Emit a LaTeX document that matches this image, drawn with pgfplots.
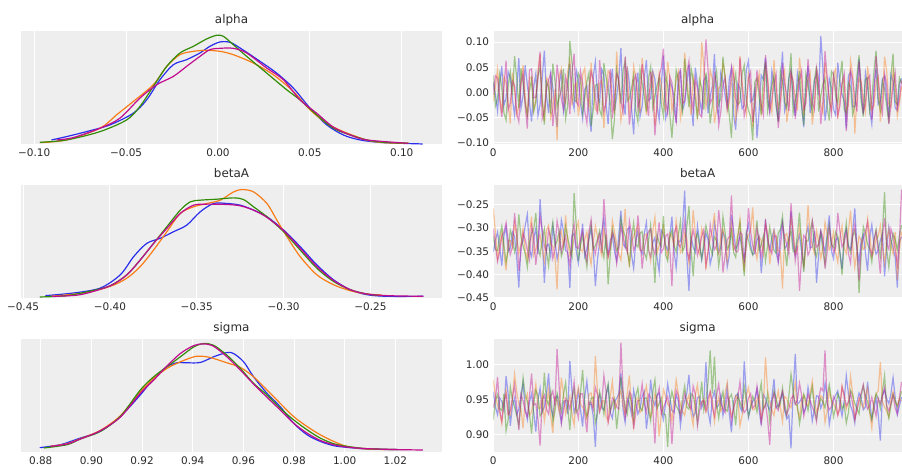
\documentclass[border=0pt]{standalone}
\usepackage{pgfplots}
\usepackage{pgfplotstable}
\pgfplotsset{compat=1.18}
\usepackage{fontspec}
\setmainfont{DejaVu Sans}
\definecolor{bgc}{HTML}{EEEEEE}
\definecolor{tc}{HTML}{2A2A2A}
\definecolor{cA}{HTML}{2A2EEC}
\definecolor{cB}{HTML}{FA7C17}
\definecolor{cC}{HTML}{328C06}
\definecolor{cD}{HTML}{C10C90}

\pgfplotstableread{
x c0 c1 c2 c3
0 0.021 -0.018 0.034 -0.005
5 -0.004 0.012 -0.027 0.033
10 -0.037 0.046 -0.012 0.028
15 0.019 -0.008 0.036 -0.014
20 0.052 -0.041 0.008 -0.049
25 -0.026 0.031 -0.041 0.009
30 -0.011 0.019 -0.055 0.063
35 0.041 -0.022 0.013 -0.035
40 0.029 -0.062 0.041 -0.021
45 -0.013 0.039 -0.006 0.022
50 -0.045 0.007 0.072 0.014
55 0.007 -0.044 0.029 -0.041
60 0.068 -0.027 -0.031 -0.058
65 -0.032 0.018 0.048 0.016
70 -0.006 0.054 0.017 0.039
75 0.054 -0.009 -0.022 -0.027
80 0.015 -0.049 -0.046 -0.072
85 -0.019 0.027 0.003 0.044
90 -0.058 0.031 0.026 0.047
95 0.011 -0.035 -0.038 -0.011
100 0.037 -0.013 -0.019 -0.009
105 -0.046 0.044 0.034 0.028
110 -0.024 0.076 0.049 0.081
115 0.028 -0.017 -0.012 -0.052
120 0.083 -0.058 -0.064 -0.036
125 -0.007 0.029 0.021 0.006
130 -0.041 0.022 0.011 0.025
135 0.036 -0.051 -0.043 0.038
140 0.009 -0.034 0.057 -0.067
145 -0.028 0.006 0.024 -0.024
150 -0.069 -0.095 -0.028 0.055
155 0.015 0.033 -0.009 0.019
160 0.044 0.048 0.003 -0.013
165 -0.039 -0.012 0.047 -0.033
170 -0.016 -0.021 -0.052 0.031
175 0.023 0.041 -0.026 0.012
180 0.057 0.066 0.102 -0.043
185 -0.011 -0.026 0.061 0.037
190 -0.032 0.012 -0.015 0.077
195 0.044 0.019 -0.018 -0.019
200 0.024 -0.047 0.038 -0.026
205 -0.021 -0.014 0.027 0.042
210 -0.052 0.035 -0.041 0.018
215 0.006 0.048 -0.011 -0.037
220 0.013 -0.008 0.022 -0.061
225 -0.043 -0.029 0.039 0.008
230 -0.078 0.059 -0.067 0.042
235 0.032 0.011 -0.034 0.025
240 0.061 -0.033 0.014 -0.007
245 -0.009 -0.038 0.016 -0.044
250 -0.019 0.017 -0.035 0.064
255 0.046 0.024 -0.047 0.013
260 0.035 -0.071 0.058 -0.039
265 -0.024 -0.006 0.031 -0.021
270 -0.063 0.043 0.006 0.011
275 0.012 0.037 -0.021 0.046
280 0.047 -0.014 -0.093 -0.052
285 -0.037 -0.043 -0.052 -0.008
290 -0.008 0.081 0.045 0.036
295 0.025 0.014 0.019 0.027
300 0.088 -0.056 -0.022 -0.018
305 -0.014 -0.031 0.042 -0.039
310 -0.044 0.027 0.063 0.071
315 0.051 0.046 -0.017 0.018
320 0.018 -0.039 -0.011 -0.064
325 -0.031 -0.018 0.008 -0.026
330 -0.083 0.052 0.034 0.023
335 0.008 0.029 -0.036 0.035
340 0.039 -0.005 -0.058 -0.031
345 -0.048 -0.041 0.045 -0.013
350 -0.027 0.068 0.019 0.056
355 0.029 0.021 -0.007 0.024
360 0.064 -0.044 -0.038 -0.012
365 -0.016 -0.009 0.028 -0.047
370 -0.012 0.015 0.051 0.041
375 0.042 0.043 -0.031 0.011
380 0.026 -0.066 -0.007 -0.085
385 -0.027 -0.025 0.014 -0.028
390 -0.054 0.038 0.029 0.033
395 0.014 0.016 -0.022 0.049
400 0.073 -0.023 -0.047 0.087
405 -0.052 -0.036 0.036 -0.017
410 -0.036 0.061 0.013 -0.042
415 0.021 0.027 -0.044 0.032
420 0.011 -0.036 -0.090 0.019
425 -0.008 -0.012 -0.026 -0.036
430 -0.061 0.024 0.044 -0.058
435 0.037 0.041 0.023 0.007
440 0.042 -0.052 -0.016 0.048
445 -0.034 -0.027 -0.039 -0.022
450 -0.021 0.079 0.067 -0.017
455 0.016 0.022 0.011 0.039
460 0.055 -0.011 -0.029 0.062
465 -0.022 -0.045 0.048 -0.009
470 -0.067 0.032 0.024 -0.034
475 0.049 0.008 -0.013 0.026
480 0.017 -0.048 -0.053 0.009
485 -0.013 -0.021 0.026 -0.043
490 -0.039 0.100 0.009 -0.049
495 0.024 0.052 -0.034 0.021
500 0.031 -0.029 0.039 0.105
505 -0.041 -0.008 0.006 0.044
510 -0.008 0.045 -0.062 -0.022
515 0.012 0.026 -0.027 -0.012
520 0.076 -0.061 0.018 0.037
525 -0.027 -0.033 0.043 0.017
530 -0.049 0.009 -0.024 -0.066
535 0.039 0.014 -0.011 -0.038
540 0.022 0.057 0.071 0.015
545 -0.006 0.033 0.029 0.029
550 -0.031 -0.037 -0.008 -0.029
555 0.027 -0.019 -0.046 -0.007
560 0.048 0.021 -0.090 0.052
565 -0.044 0.046 0.013 0.034
570 -0.074 -0.053 0.037 -0.011
575 0.018 -0.028 -0.024 -0.031
580 0.006 0.072 -0.019 0.069
585 -0.032 0.019 0.037 0.012
590 -0.026 -0.016 0.054 -0.047
595 0.045 -0.042 -0.014 -0.026
600 0.063 0.036 -0.036 0.028
605 -0.019 0.011 -0.048 0.041
610 -0.015 -0.069 -0.095 -0.059
615 0.008 -0.024 0.021 -0.018
620 -0.090 0.013 0.028 0.044
625 -0.038 0.037 -0.008 0.009
630 0.034 -0.042 -0.044 -0.024
635 0.026 -0.014 0.031 -0.045
640 0.069 0.049 0.061 0.074
645 -0.011 0.026 -0.037 0.027
650 -0.038 -0.018 -0.013 -0.038
655 0.043 -0.039 0.014 -0.014
660 0.019 0.064 0.033 0.016
665 -0.025 0.008 -0.026 0.036
670 -0.057 -0.031 -0.059 -0.071
675 0.014 -0.017 0.044 -0.029
680 0.081 0.025 0.021 0.058
685 -0.037 0.044 -0.019 0.018
690 -0.022 -0.059 -0.031 -0.005
695 0.029 -0.028 0.027 -0.037
700 0.045 0.041 0.078 0.039
705 -0.014 0.017 -0.041 0.023
710 -0.047 -0.007 -0.018 -0.053
715 0.038 -0.036 0.009 -0.011
720 0.012 0.069 0.042 0.024
725 -0.029 0.024 -0.023 0.043
730 -0.069 -0.045 -0.065 -0.033
735 0.011 -0.011 0.036 -0.021
740 0.053 0.023 0.015 0.066
745 -0.041 0.039 -0.012 0.014
750 -0.013 -0.064 -0.039 -0.019
755 0.024 -0.027 0.024 -0.034
760 0.036 0.038 0.052 0.049
765 -0.006 0.013 -0.038 0.027
770 0.112 -0.026 -0.007 -0.063
775 0.047 -0.041 0.017 -0.018
780 -0.056 0.058 0.027 0.082
785 -0.023 0.022 -0.029 0.031
790 0.027 -0.015 -0.056 -0.014
795 0.009 -0.033 0.042 -0.042
800 -0.034 0.034 0.036 0.035
805 -0.045 0.047 -0.007 0.009
810 0.059 -0.052 -0.021 -0.046
815 0.021 -0.012 0.028 -0.027
820 -0.004 0.016 0.063 0.019
825 -0.017 0.028 -0.033 0.038
830 -0.072 -0.038 -0.042 -0.077
835 0.033 -0.024 0.019 -0.012
840 0.041 0.063 0.011 0.043
845 -0.029 0.036 -0.044 0.026
850 -0.028 -0.082 -0.027 -0.008
855 0.016 -0.009 0.033 -0.038
860 0.066 0.027 0.074 0.061
865 -0.008 0.021 -0.016 0.017
870 -0.043 -0.011 -0.048 -0.039
875 0.039 -0.038 0.026 -0.023
880 0.014 0.052 0.029 0.026
885 -0.034 0.014 -0.038 0.034
890 -0.063 -0.034 -0.012 -0.054
895 0.012 -0.026 0.041 -0.009
900 0.047 0.019 0.083 0.072
905 -0.024 0.031 -0.011 0.028
910 -0.017 -0.058 -0.035 -0.016
915 0.027 -0.013 0.022 -0.041
920 0.032 0.071 0.006 0.037
925 -0.013 0.042 -0.028 0.016
930 -0.051 -0.022 -0.061 -0.063
935 0.035 -0.029 0.034 -0.024
940 0.023 0.044 0.077 0.011
945 -0.031 0.017 -0.019 0.039
950 -0.036 -0.047 -0.024 -0.031
955 0.018 -0.021 0.029 -0.013
960 0.028 0.012 0.018 0.024
}\alphatab

\pgfplotstableread{
x c0 c1 c2 c3
0 -0.352 -0.258 -0.318 -0.301
5 -0.326 -0.311 -0.347 -0.338
10 -0.309 -0.366 -0.349 -0.372
15 -0.343 -0.339 -0.319 -0.351
20 -0.381 -0.312 -0.296 -0.318
25 -0.317 -0.354 -0.336 -0.309
30 -0.297 -0.391 -0.374 -0.289
35 -0.351 -0.326 -0.348 -0.327
40 -0.343 -0.327 -0.305 -0.357
45 -0.309 -0.341 -0.321 -0.341
50 -0.318 -0.289 -0.352 -0.268
55 -0.364 -0.318 -0.337 -0.314
60 -0.428 -0.354 -0.271 -0.392
65 -0.338 -0.335 -0.318 -0.349
70 -0.327 -0.301 -0.338 -0.311
75 -0.295 -0.349 -0.356 -0.325
80 -0.271 -0.368 -0.384 -0.347
85 -0.347 -0.312 -0.331 -0.368
90 -0.362 -0.276 -0.312 -0.296
95 -0.322 -0.358 -0.303 -0.316
100 -0.301 -0.346 -0.268 -0.379
105 -0.356 -0.329 -0.342 -0.337
110 -0.238 -0.315 -0.359 -0.275
115 -0.313 -0.346 -0.324 -0.304
120 -0.418 -0.372 -0.302 -0.338
125 -0.339 -0.305 -0.351 -0.352
130 -0.335 -0.294 -0.381 -0.304
135 -0.361 -0.336 -0.316 -0.321
140 -0.296 -0.339 -0.287 -0.366
145 -0.327 -0.362 -0.339 -0.346
150 -0.367 -0.432 -0.328 -0.285
155 -0.345 -0.317 -0.307 -0.311
160 -0.283 -0.306 -0.361 -0.351
165 -0.306 -0.344 -0.345 -0.333
170 -0.349 -0.273 -0.297 -0.317
175 -0.352 -0.328 -0.321 -0.355
180 -0.429 -0.359 -0.343 -0.382
185 -0.318 -0.351 -0.362 -0.318
190 -0.312 -0.322 -0.225 -0.292
195 -0.349 -0.303 -0.294 -0.341
200 -0.376 -0.287 -0.371 -0.344
205 -0.331 -0.346 -0.337 -0.323
210 -0.291 -0.351 -0.315 -0.306
215 -0.361 -0.324 -0.352 -0.348
220 -0.344 -0.309 -0.384 -0.371
225 -0.323 -0.352 -0.319 -0.307
230 -0.302 -0.378 -0.292 -0.282
235 -0.344 -0.331 -0.346 -0.339
240 -0.425 -0.296 -0.338 -0.356
245 -0.367 -0.318 -0.325 -0.328
250 -0.331 -0.342 -0.306 -0.313
255 -0.308 -0.359 -0.341 -0.353
260 -0.279 -0.303 -0.364 -0.238
265 -0.341 -0.327 -0.314 -0.301
270 -0.358 -0.364 -0.421 -0.361
275 -0.326 -0.343 -0.358 -0.342
280 -0.317 -0.285 -0.302 -0.309
285 -0.351 -0.309 -0.327 -0.324
290 -0.371 -0.335 -0.349 -0.376
295 -0.316 -0.356 -0.341 -0.345
300 -0.263 -0.369 -0.281 -0.297
305 -0.334 -0.322 -0.305 -0.317
310 -0.342 -0.259 -0.318 -0.338
315 -0.303 -0.341 -0.349 -0.352
320 -0.299 -0.384 -0.377 -0.285
325 -0.358 -0.328 -0.321 -0.311
330 -0.387 -0.318 -0.289 -0.349
335 -0.329 -0.305 -0.336 -0.336
340 -0.306 -0.294 -0.341 -0.273
345 -0.345 -0.349 -0.311 -0.319
350 -0.355 -0.348 -0.308 -0.387
355 -0.312 -0.316 -0.353 -0.344
360 -0.288 -0.313 -0.366 -0.321
365 -0.348 -0.344 -0.327 -0.308
370 -0.363 -0.371 -0.293 -0.302
375 -0.331 -0.307 -0.346 -0.341
380 -0.321 -0.277 -0.418 -0.357
385 -0.364 -0.354 -0.315 -0.327
390 -0.394 -0.338 -0.332 -0.288
395 -0.305 -0.325 -0.339 -0.353
400 -0.313 -0.298 -0.274 -0.345
405 -0.337 -0.343 -0.357 -0.318
410 -0.349 -0.362 -0.371 -0.313
415 -0.316 -0.311 -0.321 -0.345
420 -0.276 -0.319 -0.304 -0.425
425 -0.349 -0.338 -0.338 -0.312
430 -0.386 -0.284 -0.352 -0.298
435 -0.328 -0.317 -0.316 -0.336
440 -0.329 -0.353 -0.285 -0.341
445 -0.299 -0.345 -0.351 -0.319
450 -0.220 -0.311 -0.339 -0.286
455 -0.362 -0.324 -0.298 -0.349
460 -0.435 -0.376 -0.253 -0.368
465 -0.319 -0.338 -0.346 -0.331
470 -0.341 -0.262 -0.404 -0.304
475 -0.352 -0.311 -0.325 -0.325
480 -0.295 -0.345 -0.312 -0.359
485 -0.331 -0.356 -0.339 -0.341
490 -0.368 -0.301 -0.367 -0.319
495 -0.342 -0.321 -0.331 -0.303
500 -0.311 -0.389 -0.295 -0.381
505 -0.326 -0.348 -0.316 -0.352
510 -0.378 -0.323 -0.342 -0.293
515 -0.357 -0.305 -0.357 -0.322
520 -0.289 -0.268 -0.319 -0.347
525 -0.314 -0.344 -0.327 -0.337
530 -0.353 -0.357 -0.382 -0.262
535 -0.341 -0.319 -0.348 -0.306
540 -0.308 -0.302 -0.276 -0.396
545 -0.322 -0.337 -0.309 -0.359
550 -0.384 -0.371 -0.346 -0.326
555 -0.359 -0.328 -0.336 -0.318
560 -0.272 -0.293 -0.307 -0.230
565 -0.305 -0.347 -0.353 -0.333
570 -0.345 -0.339 -0.363 -0.351
575 -0.336 -0.314 -0.319 -0.351
580 -0.317 -0.281 -0.288 -0.309
585 -0.348 -0.352 -0.342 -0.314
590 -0.369 -0.394 -0.403 -0.372
595 -0.311 -0.327 -0.311 -0.339
600 -0.292 -0.316 -0.327 -0.257
605 -0.337 -0.306 -0.347 -0.308
610 -0.357 -0.256 -0.358 -0.338
615 -0.354 -0.343 -0.324 -0.352
620 -0.326 -0.366 -0.284 -0.301
625 -0.318 -0.319 -0.349 -0.326
630 -0.397 -0.327 -0.336 -0.364
635 -0.346 -0.355 -0.317 -0.334
640 -0.281 -0.289 -0.371 -0.289
645 -0.327 -0.312 -0.338 -0.321
650 -0.349 -0.378 -0.298 -0.345
655 -0.321 -0.338 -0.325 -0.355
660 -0.305 -0.305 -0.349 -0.318
665 -0.353 -0.322 -0.354 -0.317
670 -0.372 -0.349 -0.311 -0.373
675 -0.309 -0.351 -0.303 -0.342
680 -0.287 -0.430 -0.275 -0.293
685 -0.344 -0.317 -0.341 -0.319
690 -0.338 -0.312 -0.382 -0.336
695 -0.323 -0.339 -0.322 -0.357
700 -0.264 -0.279 -0.306 -0.247
705 -0.338 -0.307 -0.351 -0.311
710 -0.359 -0.355 -0.351 -0.371
715 -0.329 -0.346 -0.314 -0.338
720 -0.315 -0.298 -0.267 -0.435
725 -0.351 -0.324 -0.339 -0.362
730 -0.382 -0.386 -0.394 -0.316
735 -0.316 -0.338 -0.328 -0.323
740 -0.297 -0.251 -0.328 -0.358
745 -0.343 -0.316 -0.305 -0.347
750 -0.341 -0.337 -0.286 -0.284
755 -0.307 -0.355 -0.347 -0.309
760 -0.418 -0.306 -0.361 -0.341
765 -0.358 -0.329 -0.331 -0.336
770 -0.309 -0.365 -0.309 -0.306
775 -0.332 -0.341 -0.351 -0.321
780 -0.352 -0.288 -0.378 -0.387
785 -0.314 -0.313 -0.321 -0.352
790 -0.273 -0.347 -0.294 -0.299
795 -0.349 -0.336 -0.336 -0.328
800 -0.366 -0.309 -0.342 -0.352
805 -0.326 -0.352 -0.309 -0.341
810 -0.321 -0.374 -0.319 -0.268
815 -0.352 -0.321 -0.352 -0.306
820 -0.389 -0.296 -0.401 -0.341
825 -0.318 -0.344 -0.327 -0.331
830 -0.302 -0.355 -0.289 -0.309
835 -0.339 -0.307 -0.341 -0.355
840 -0.346 -0.263 -0.353 -0.375
845 -0.306 -0.339 -0.318 -0.316
850 -0.258 -0.384 -0.306 -0.292
855 -0.341 -0.351 -0.339 -0.344
860 -0.374 -0.318 -0.440 -0.413
865 -0.327 -0.326 -0.359 -0.337
870 -0.314 -0.346 -0.297 -0.323
875 -0.354 -0.342 -0.312 -0.308
880 -0.392 -0.281 -0.335 -0.287
885 -0.319 -0.311 -0.346 -0.343
890 -0.293 -0.362 -0.373 -0.358
895 -0.335 -0.349 -0.327 -0.328
900 -0.356 -0.323 -0.303 -0.307
905 -0.348 -0.318 -0.336 -0.351
910 -0.327 -0.295 -0.362 -0.398
915 -0.312 -0.341 -0.305 -0.319
920 -0.404 -0.376 -0.223 -0.279
925 -0.344 -0.327 -0.346 -0.334
930 -0.298 -0.302 -0.384 -0.346
935 -0.326 -0.338 -0.337 -0.302
940 -0.343 -0.356 -0.312 -0.319
945 -0.363 -0.309 -0.325 -0.347
950 -0.428 -0.411 -0.347 -0.378
955 -0.329 -0.346 -0.316 -0.325
960 -0.319 -0.308 -0.294 -0.218
}\betatab

\pgfplotstableread{
x c0 c1 c2 c3
0 0.961 0.978 0.921 0.938
5 0.939 0.954 0.948 0.951
10 0.928 0.941 0.957 0.982
15 0.952 0.931 0.937 0.935
20 0.947 0.915 0.934 0.919
25 0.934 0.948 0.958 0.946
30 0.983 0.963 0.905 0.957
35 0.957 0.929 0.921 0.928
40 0.912 0.927 0.968 0.934
45 0.941 0.951 0.949 0.952
50 0.952 0.986 0.939 0.971
55 0.928 0.961 0.927 0.939
60 0.936 0.944 0.912 0.906
65 0.955 0.936 0.944 0.957
70 0.973 0.909 0.981 0.948
75 0.937 0.949 0.956 0.933
80 0.921 0.958 0.947 0.925
85 0.946 0.927 0.929 0.954
90 0.958 0.932 0.901 0.987
95 0.931 0.951 0.943 0.942
100 0.904 0.972 0.963 0.944
105 0.949 0.938 0.955 0.921
110 0.966 0.937 0.926 0.884
115 0.932 0.957 0.931 0.949
120 0.939 0.919 0.988 0.956
125 0.958 0.941 0.949 0.936
130 0.987 0.965 0.942 0.929
135 0.939 0.926 0.961 0.954
140 0.926 0.902 0.918 0.962
145 0.951 0.953 0.933 0.941
150 0.955 0.948 0.959 1.022
155 0.934 0.932 0.946 0.967
160 0.917 0.981 0.933 0.915
165 0.947 0.958 0.957 0.934
170 0.948 0.929 0.974 0.951
175 0.929 0.941 0.938 0.947
180 1.005 0.954 0.906 0.936
185 0.962 0.929 0.952 0.952
190 0.931 0.913 0.965 0.975
195 0.941 0.951 0.931 0.938
200 0.962 0.967 0.937 0.923
205 0.936 0.943 0.959 0.958
210 0.911 0.939 0.992 0.958
215 0.954 0.934 0.944 0.929
220 0.976 0.921 0.925 0.903
225 0.943 0.957 0.936 0.946
230 0.943 0.959 0.951 0.946
235 0.926 0.938 0.953 0.935
240 0.882 1.012 0.916 0.967
245 0.949 0.961 0.929 0.957
250 0.957 0.934 0.961 0.932
255 0.938 0.946 0.948 0.943
260 0.935 0.949 0.929 0.984
265 0.955 0.926 0.956 0.961
270 0.969 0.918 0.972 0.917
275 0.931 0.953 0.933 0.932
280 0.923 0.976 0.943 0.952
285 0.947 0.937 0.951 0.948
290 0.951 0.941 0.908 0.939
295 0.958 0.956 0.937 0.936
300 0.987 0.962 0.982 1.031
305 0.935 0.941 0.958 0.964
310 0.917 0.928 0.939 0.924
315 0.951 0.959 0.929 0.941
320 0.944 0.984 0.957 0.961
325 0.929 0.934 0.946 0.955
330 0.963 0.911 0.921 0.908
335 0.946 0.949 0.955 0.931
340 0.929 0.952 0.966 0.948
345 0.937 0.931 0.938 0.949
350 0.954 0.936 0.934 0.972
355 0.961 0.957 0.951 0.944
360 0.908 0.969 0.952 0.931
365 0.933 0.942 0.934 0.957
370 0.978 0.925 0.919 0.953
375 0.949 0.934 0.961 0.936
380 0.941 0.958 0.978 0.887
385 0.956 0.946 0.937 0.953
390 0.959 0.897 0.944 0.966
395 0.935 0.928 0.952 0.929
400 0.921 0.964 0.929 0.938
405 0.944 0.955 0.928 0.946
410 0.972 0.943 0.882 0.954
415 0.953 0.939 0.944 0.938
420 0.934 0.919 0.961 0.886
425 0.931 0.951 0.948 0.931
430 0.956 0.978 0.941 0.963
435 0.948 0.958 0.935 0.955
440 0.912 0.942 0.927 0.925
445 0.936 0.933 0.952 0.943
450 0.948 0.927 0.969 0.958
455 0.959 0.947 0.939 0.947
460 0.985 0.956 0.936 0.941
465 0.942 0.929 0.958 0.936
470 0.925 0.913 0.955 0.969
475 0.931 0.956 0.941 0.957
480 0.952 0.971 0.917 0.912
485 0.954 0.943 0.946 0.933
490 0.938 0.944 0.975 0.947
495 0.947 0.951 0.934 0.948
500 1.003 0.932 0.948 0.934
505 0.933 0.939 0.975 0.952
510 0.916 0.961 1.020 0.961
515 0.951 0.948 0.958 0.939
520 0.961 0.918 1.011 0.926
525 0.938 0.941 0.943 0.956
530 0.942 0.953 0.923 0.972
535 0.956 0.933 0.947 0.944
540 0.927 0.939 0.961 0.937
545 0.945 0.958 0.936 0.931
550 0.968 0.974 0.933 0.955
555 0.929 0.941 0.952 0.948
560 0.903 0.926 0.957 0.918
565 0.947 0.936 0.939 0.937
570 0.955 0.955 0.913 0.948
575 0.958 0.951 0.956 0.953
580 0.939 0.912 0.946 0.975
585 0.932 0.927 0.937 0.942
590 1.004 0.941 0.969 0.931
595 0.955 0.956 0.949 0.935
600 0.924 0.967 0.926 0.952
605 0.939 0.944 0.938 0.958
610 0.947 0.935 0.954 0.938
615 0.951 0.936 0.947 0.941
620 0.965 0.949 0.932 0.969
625 0.936 0.955 0.955 0.947
630 0.913 0.921 0.973 0.916
635 0.957 0.939 0.936 0.935
640 0.951 1.010 0.941 0.944
645 0.941 0.962 0.958 0.921
650 0.934 0.946 0.918 0.885
655 0.953 0.935 0.941 0.948
660 0.979 0.927 0.962 0.959
665 0.938 0.947 0.951 0.939
670 0.941 0.962 0.938 0.934
675 0.949 0.938 0.944 0.951
680 0.958 0.918 0.966 0.962
685 0.934 0.954 0.937 0.944
690 0.922 0.951 0.927 0.928
695 0.927 0.941 0.955 0.937
700 0.880 0.938 0.986 0.951
705 0.961 0.957 0.962 0.955
710 1.015 0.973 0.943 0.943
715 0.943 0.935 0.941 0.949
720 0.946 0.924 0.915 0.973
725 0.952 0.948 0.933 0.956
730 0.931 0.956 0.957 0.926
735 0.938 0.943 0.948 0.941
740 0.967 0.941 0.934 0.957
745 0.947 0.958 0.952 0.948
750 0.919 0.976 0.968 0.939
755 0.936 0.946 0.936 0.932
760 0.955 0.932 0.922 0.918
765 0.954 0.939 0.941 0.951
770 0.937 0.955 0.951 0.966
775 0.946 0.952 0.947 0.962
780 0.973 0.917 0.938 1.020
785 0.953 0.933 0.955 0.944
790 0.914 0.963 0.971 0.935
795 0.933 0.948 0.949 0.939
800 0.949 0.944 0.925 0.954
805 0.956 0.937 0.939 0.948
810 0.962 0.928 0.958 0.927
815 0.941 0.942 0.951 0.937
820 0.926 0.969 0.936 0.968
825 0.948 0.954 0.943 0.956
830 0.984 0.936 0.916 0.941
835 0.958 0.946 0.931 0.946
840 0.941 0.983 0.963 0.959
845 0.932 0.958 0.956 0.943
850 0.916 0.921 0.944 0.922
855 0.946 0.936 0.937 0.934
860 0.959 0.952 0.929 0.948
865 0.952 0.944 0.955 0.959
870 0.935 0.938 0.969 0.971
875 0.939 0.955 0.954 0.948
880 0.975 0.966 0.947 0.936
885 0.947 0.931 0.932 0.941
890 0.922 0.909 0.921 0.953
895 0.936 0.948 0.943 0.939
900 0.952 0.957 0.958 0.926
905 0.929 0.962 0.951 0.952
910 0.891 1.003 0.937 0.944
915 0.955 0.947 0.962 0.955
920 0.963 0.939 0.984 0.967
925 0.951 0.933 0.938 0.941
930 0.944 0.925 0.923 0.933
935 0.958 0.949 0.941 0.944
940 0.981 0.961 0.957 0.956
945 0.953 0.946 0.948 0.937
950 0.928 0.942 0.939 0.929
955 0.941 0.951 0.949 0.953
960 0.953 0.948 0.962 0.975
}\sigmatab

\pgfplotsset{
  base/.style={
    scale only axis, height=113.7bp,
    anchor=south west,
    axis background/.style={fill=bgc},
    axis line style={draw=none},
    major tick length=0pt,
    tick style={draw=none},
    major grid style={white, line width=1bp},
    enlargelimits=false,
    ticklabel style={font=\fontsize{10.5}{12}\selectfont, text=tc},
    x tick label style={anchor=base, yshift=-12.5bp},
    y tick label style={anchor=east, inner sep=0pt, xshift=-4bp},
    title style={font=\fontsize{12}{14}\selectfont, text=tc, at={(0.5,1)}, anchor=base, yshift=1bp},
  },
  kde/.style={base, width=421bp, xmajorgrids, ytick=\empty, ymin=0},
  trace/.style={base, width=408.7bp, xmajorgrids, ymajorgrids, xmin=0, xmax=961,
    xtick={0,200,400,600,800}, xticklabels={0,200,400,600,800}},
  kl/.style={line width=1.2bp, smooth},
  tl/.style={line width=1.2bp, opacity=0.42},
}

\begin{document}
\begin{tikzpicture}
\path[use as bounding box] (0,0) rectangle (902bp,466bp);

% ---------- alpha KDE ----------
\begin{axis}[kde, at={(21bp,321.7bp)}, title={alpha},
  xmin=-0.1072, xmax=0.1219, ymax=340,
  xtick={-0.10,-0.05,0,0.05,0.10}, xticklabels={−0.10,−0.05,0.00,0.05,0.10}]
\addplot[kl, cA] coordinates {(-0.0906,13) (-0.0824,23) (-0.0715,38) (-0.0588,58) (-0.0461,93) (-0.0388,133) (-0.0316,193) (-0.0243,238) (-0.0171,253) (-0.0098,273) (-0.0044,293) (0.0011,306) (0.0065,305) (0.0120,288) (0.0229,248) (0.0319,213) (0.0410,168) (0.0501,108) (0.0592,58) (0.0682,28) (0.0773,13) (0.0900,5) (0.1114,1)};
\addplot[kl, cB] coordinates {(-0.0969,5) (-0.0824,13) (-0.0642,48) (-0.0552,88) (-0.0461,128) (-0.0352,178) (-0.0279,233) (-0.0207,268) (-0.0134,278) (-0.0062,281) (0.0011,278) (0.0083,268) (0.0192,243) (0.0301,208) (0.0410,158) (0.0501,103) (0.0592,63) (0.0682,38) (0.0809,13) (0.0900,5) (0.1036,3)};
\addplot[kl, cC] coordinates {(-0.0969,6) (-0.0824,13) (-0.0642,38) (-0.0497,73) (-0.0425,113) (-0.0352,173) (-0.0279,233) (-0.0207,273) (-0.0134,293) (-0.0062,315) (-0.0007,326) (0.0029,323) (0.0083,298) (0.0156,263) (0.0265,213) (0.0374,163) (0.0446,133) (0.0537,88) (0.0628,48) (0.0719,28) (0.0809,13) (0.0900,6) (0.1036,3)};
\addplot[kl, cD] coordinates {(-0.0878,13) (-0.0788,20) (-0.0642,48) (-0.0534,78) (-0.0425,138) (-0.0334,178) (-0.0243,203) (-0.0171,233) (-0.0098,263) (-0.0044,283) (0.0011,287) (0.0083,287) (0.0156,273) (0.0265,228) (0.0356,193) (0.0446,133) (0.0537,93) (0.0628,51) (0.0719,28) (0.0809,13) (0.1036,3)};
\end{axis}

% ---------- alpha trace ----------
\begin{axis}[trace, at={(493.3bp,321.7bp)}, title={alpha},
  ymin=-0.1030, ymax=0.1227,
  ytick={-0.10,-0.05,0,0.05,0.10}, yticklabels={−0.10,−0.05,0.00,0.05,0.10}]
\addplot[tl, cA] table[x index=0, y index=1] {\alphatab};
\addplot[tl, cB] table[x index=0, y index=2] {\alphatab};
\addplot[tl, cC] table[x index=0, y index=3] {\alphatab};
\addplot[tl, cD] table[x index=0, y index=4] {\alphatab};
\end{axis}

% ---------- betaA KDE ----------
\begin{axis}[kde, at={(21bp,167.7bp)}, title={betaA},
  xmin=-0.4512, xmax=-0.2088, ymax=343,
  xtick={-0.45,-0.40,-0.35,-0.30,-0.25}, xticklabels={−0.45,−0.40,−0.35,−0.30,−0.25}]
\addplot[kl, cA] coordinates {(-0.4372,8) (-0.4209,16) (-0.4055,31) (-0.3940,71) (-0.3863,126) (-0.3787,166) (-0.3710,181) (-0.3633,201) (-0.3557,221) (-0.3480,261) (-0.3403,286) (-0.3326,286) (-0.3250,281) (-0.3173,266) (-0.3096,246) (-0.3000,206) (-0.2905,156) (-0.2809,101) (-0.2713,56) (-0.2617,26) (-0.2521,11) (-0.2406,6) (-0.2195,6)};
\addplot[kl, cB] coordinates {(-0.4343,6) (-0.4151,16) (-0.3998,36) (-0.3902,61) (-0.3825,96) (-0.3748,146) (-0.3672,201) (-0.3595,256) (-0.3518,276) (-0.3442,286) (-0.3365,296) (-0.3288,321) (-0.3240,328) (-0.3173,321) (-0.3096,286) (-0.3039,236) (-0.2981,186) (-0.2905,126) (-0.2809,71) (-0.2713,41) (-0.2617,23) (-0.2521,13) (-0.2435,10)};
\addplot[kl, cC] coordinates {(-0.4404,4) (-0.4247,8) (-0.4093,24) (-0.3998,38) (-0.3902,71) (-0.3825,116) (-0.3748,166) (-0.3672,216) (-0.3595,266) (-0.3537,291) (-0.3480,296) (-0.3384,299) (-0.3288,303) (-0.3231,298) (-0.3173,276) (-0.3096,246) (-0.3000,201) (-0.2905,146) (-0.2809,91) (-0.2713,51) (-0.2617,26) (-0.2521,13) (-0.2435,8)};
\addplot[kl, cD] coordinates {(-0.4333,6) (-0.4170,11) (-0.3998,38) (-0.3902,71) (-0.3825,116) (-0.3748,166) (-0.3672,211) (-0.3595,256) (-0.3518,281) (-0.3442,284) (-0.3326,283) (-0.3250,279) (-0.3173,266) (-0.3096,244) (-0.3000,204) (-0.2905,151) (-0.2809,96) (-0.2713,54) (-0.2617,26) (-0.2521,13) (-0.2406,8) (-0.2195,6)};
\end{axis}

% ---------- betaA trace ----------
\begin{axis}[trace, at={(493.3bp,167.7bp)}, title={betaA},
  ymin=-0.451, ymax=-0.207,
  ytick={-0.45,-0.40,-0.35,-0.30,-0.25}, yticklabels={−0.45,−0.40,−0.35,−0.30,−0.25}]
\addplot[tl, cA] table[x index=0, y index=1] {\betatab};
\addplot[tl, cB] table[x index=0, y index=2] {\betatab};
\addplot[tl, cC] table[x index=0, y index=3] {\betatab};
\addplot[tl, cD] table[x index=0, y index=4] {\betatab};
\end{axis}

% ---------- sigma KDE ----------
\begin{axis}[kde, at={(21bp,13.7bp)}, title={sigma},
  xmin=0.8722, xmax=1.0384, ymax=343,
  xtick={0.88,0.90,0.92,0.94,0.96,0.98,1.00,1.02}, xticklabels={0.88,0.90,0.92,0.94,0.96,0.98,1.00,1.02}]
\addplot[kl, cA] coordinates {(0.8796,14) (0.8878,23) (0.8956,43) (0.9035,63) (0.9114,108) (0.9193,173) (0.9246,223) (0.9298,258) (0.9338,270) (0.9377,270) (0.9430,271) (0.9482,288) (0.9535,301) (0.9561,298) (0.9601,273) (0.9640,228) (0.9693,178) (0.9745,138) (0.9798,88) (0.9851,53) (0.9903,33) (0.9956,20) (1.0008,15) (1.0087,10) (1.0218,8)};
\addplot[kl, cB] coordinates {(0.8838,18) (0.8904,26) (0.8956,41) (0.9035,66) (0.9114,110) (0.9193,183) (0.9246,223) (0.9298,253) (0.9351,273) (0.9404,288) (0.9430,290) (0.9469,286) (0.9535,270) (0.9588,256) (0.9640,228) (0.9693,188) (0.9745,148) (0.9798,108) (0.9851,78) (0.9903,53) (0.9956,33) (1.0008,18) (1.0087,10) (1.0218,8)};
\addplot[kl, cC] coordinates {(0.8812,13) (0.8904,23) (0.8956,40) (0.9035,63) (0.9114,108) (0.9193,188) (0.9246,228) (0.9298,258) (0.9351,288) (0.9404,318) (0.9443,328) (0.9482,323) (0.9535,293) (0.9588,253) (0.9640,208) (0.9693,173) (0.9745,133) (0.9798,98) (0.9851,68) (0.9903,43) (0.9956,26) (1.0008,18) (1.0087,11) (1.0212,8)};
\addplot[kl, cD] coordinates {(0.8838,18) (0.8904,25) (0.8956,40) (0.9035,65) (0.9114,106) (0.9193,178) (0.9246,218) (0.9298,260) (0.9351,298) (0.9404,322) (0.9443,327) (0.9482,320) (0.9535,288) (0.9588,248) (0.9640,206) (0.9693,166) (0.9745,128) (0.9798,88) (0.9851,58) (0.9903,36) (0.9956,23) (1.0008,16) (1.0087,11) (1.0218,8) (1.0308,7)};
\end{axis}

% ---------- sigma trace ----------
\begin{axis}[trace, at={(493.3bp,13.7bp)}, title={sigma},
  ymin=0.8743, ymax=1.0367,
  ytick={0.90,0.95,1.00}, yticklabels={0.90,0.95,1.00}]
\addplot[tl, cA] table[x index=0, y index=1] {\sigmatab};
\addplot[tl, cB] table[x index=0, y index=2] {\sigmatab};
\addplot[tl, cC] table[x index=0, y index=3] {\sigmatab};
\addplot[tl, cD] table[x index=0, y index=4] {\sigmatab};
\end{axis}
\end{tikzpicture}
\end{document}
